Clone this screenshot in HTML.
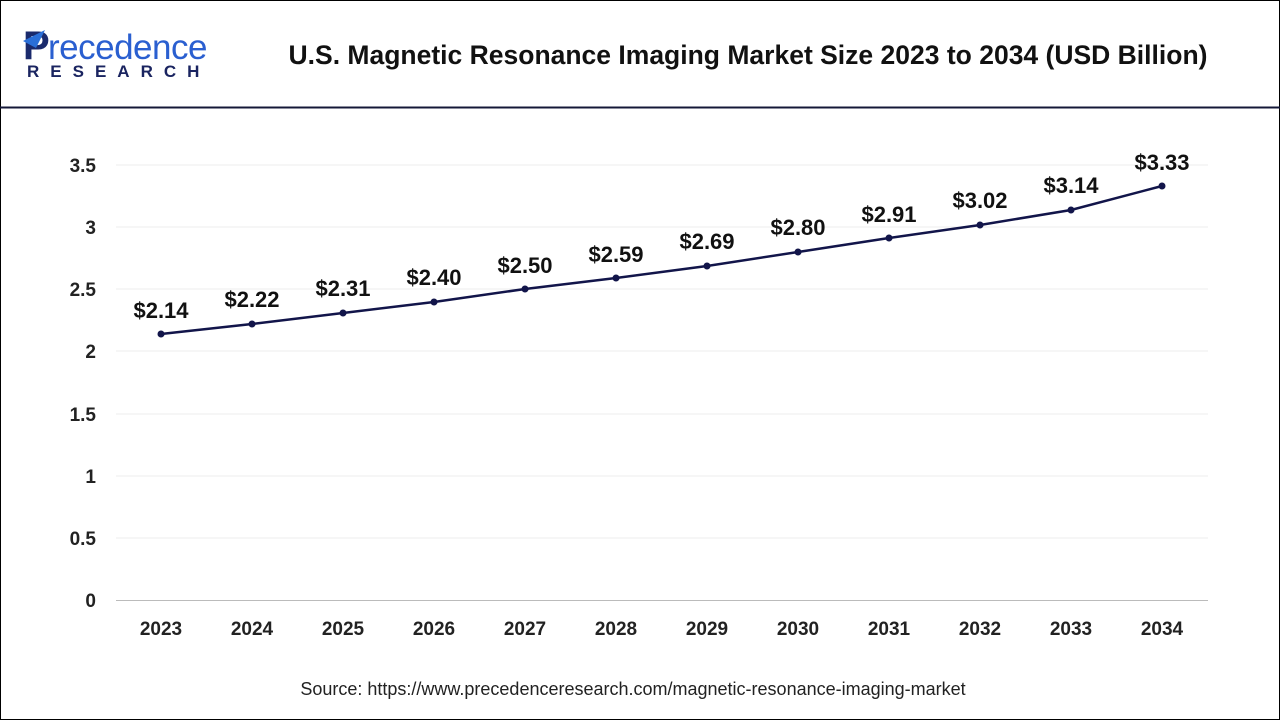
<!DOCTYPE html><html><head><meta charset="utf-8"><style>
body{margin:0;width:1280px;height:720px;background:#fff;overflow:hidden;font-family:"Liberation Sans",Arial,sans-serif}
</style></head><body>
<svg width="1280" height="720" xmlns="http://www.w3.org/2000/svg" font-family="Liberation Sans, Arial, sans-serif">
<rect x="0.5" y="0.5" width="1279" height="719" fill="#fff" stroke="#000" stroke-width="1"/>
<line x1="0" y1="107.5" x2="1280" y2="107.5" stroke="#141838" stroke-width="2"/>
<text x="23" y="59" font-size="40" font-weight="bold" fill="#1a2a6c">P</text>
<path d="M23 41 L45 30 L36 48 Z" fill="#2a6fd8"/>
<text x="48" y="59" font-size="35" fill="#2a5fd0" letter-spacing="-0.5">recedence</text>
<text x="27" y="77" font-size="17" font-weight="bold" fill="#1a2460" letter-spacing="11">RESEARCH</text>
<text x="748" y="64" font-size="26.5" font-weight="bold" fill="#111" text-anchor="middle">U.S. Magnetic Resonance Imaging Market Size 2023 to 2034 (USD Billion)</text>
<g stroke="#ececec" stroke-width="1">
<line x1="116" y1="538" x2="1208" y2="538"/><line x1="116" y1="476" x2="1208" y2="476"/><line x1="116" y1="414" x2="1208" y2="414"/><line x1="116" y1="351" x2="1208" y2="351"/><line x1="116" y1="289" x2="1208" y2="289"/><line x1="116" y1="227" x2="1208" y2="227"/><line x1="116" y1="165" x2="1208" y2="165"/>
</g>
<line x1="116" y1="600.5" x2="1208" y2="600.5" stroke="#bbb" stroke-width="1"/>
<g font-size="19" font-weight="bold" fill="#222" text-anchor="end">
<text x="96" y="607">0</text><text x="96" y="545">0.5</text><text x="96" y="483">1</text><text x="96" y="421">1.5</text><text x="96" y="358">2</text><text x="96" y="296">2.5</text><text x="96" y="234">3</text><text x="96" y="172">3.5</text>
</g>
<g font-size="19" font-weight="bold" fill="#222" text-anchor="middle">
<text x="161" y="635">2023</text><text x="252" y="635">2024</text><text x="343" y="635">2025</text><text x="434" y="635">2026</text><text x="525" y="635">2027</text><text x="616" y="635">2028</text><text x="707" y="635">2029</text><text x="798" y="635">2030</text><text x="889" y="635">2031</text><text x="980" y="635">2032</text><text x="1071" y="635">2033</text><text x="1162" y="635">2034</text>
</g>
<polyline fill="none" stroke="#12154a" stroke-width="2.5" points="161,334 252,324 343,313 434,302 525,289 616,278 707,266 798,252 889,238 980,225 1071,210 1162,186"/>
<g fill="#12154a">
<circle cx="161" cy="334" r="3.5"/><circle cx="252" cy="324" r="3.5"/><circle cx="343" cy="313" r="3.5"/><circle cx="434" cy="302" r="3.5"/><circle cx="525" cy="289" r="3.5"/><circle cx="616" cy="278" r="3.5"/><circle cx="707" cy="266" r="3.5"/><circle cx="798" cy="252" r="3.5"/><circle cx="889" cy="238" r="3.5"/><circle cx="980" cy="225" r="3.5"/><circle cx="1071" cy="210" r="3.5"/><circle cx="1162" cy="186" r="3.5"/>
</g>
<g font-size="22" font-weight="bold" fill="#111" text-anchor="middle">
<text x="161" y="318">$2.14</text><text x="252" y="307">$2.22</text><text x="343" y="296">$2.31</text><text x="434" y="285">$2.40</text><text x="525" y="273">$2.50</text><text x="616" y="262">$2.59</text><text x="707" y="249">$2.69</text><text x="798" y="235">$2.80</text><text x="889" y="222">$2.91</text><text x="980" y="208">$3.02</text><text x="1071" y="193">$3.14</text><text x="1162" y="170">$3.33</text>
</g>
<text x="633" y="695" font-size="18" fill="#222" text-anchor="middle">Source: https://www.precedenceresearch.com/magnetic-resonance-imaging-market</text>
</svg>
</body></html>
